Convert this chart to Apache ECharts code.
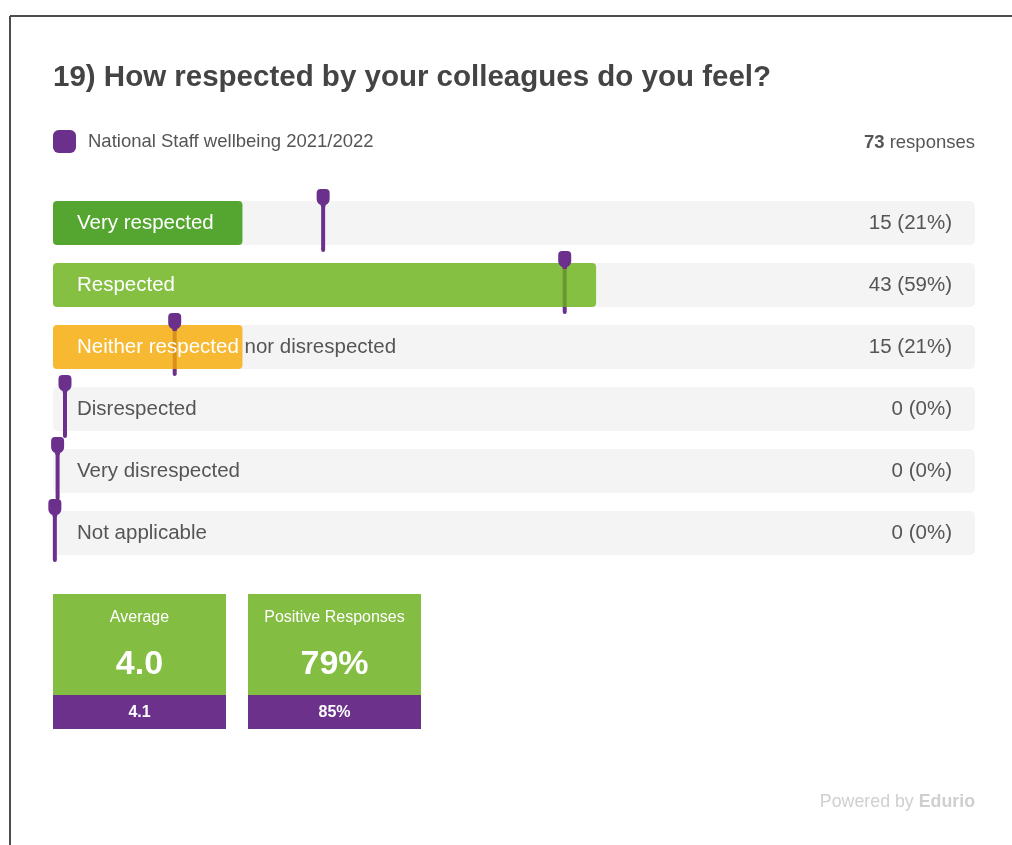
<!DOCTYPE html>
<html><head><meta charset="utf-8">
<script src="https://cdn.jsdelivr.net/npm/echarts@6/dist/echarts.min.js"></script>
<style>html,body{margin:0;padding:0;background:#fff}#c{width:1012px;height:845px}</style>
</head><body><div id="c"></div>
<script>
const titleText = '19) How respected by your colleagues do you feel?';
const legendName = 'National Staff wellbeing 2021/2022';
const totalResponses = 73;
const categories = ['Very respected', 'Respected', 'Neither respected nor disrespected', 'Disrespected', 'Very disrespected', 'Not applicable'];
const counts = [15, 43, 15, 0, 0, 0];
const percents = [21, 59, 21, 0, 0, 0];
const nationalPercents = [29.3, 55.5, 13.2, 1.3, 0.5, 0.2];
const barColors = ['#2d9200', '#69b317', '#f6aa00', '#69b317', '#69b317', '#69b317'];
const statLabels = ['Average', 'Positive Responses'];
const statValues = ['4.0', '79%'];
const statNational = ['4.1', '85%'];

const FONT = '"Liberation Sans", Arial, Helvetica, sans-serif';
const PURPLE = '#6b2f8c';
const BAR_H = 44;

const chart = echarts.init(document.getElementById('c'), null, {renderer: 'canvas'});

function rowGeom(api, v, idx) {
  const p0 = api.coord([0, idx]);
  const p1 = api.coord([v, idx]);
  const pE = api.coord([100, idx]);
  return {x0: p0[0], x1: p1[0], xe: pE[0], cy: p0[1], y: p0[1] - BAR_H / 2};
}

function textStyle(str, x, y, fill) {
  return {text: str, x: x, y: y, fill: fill, fontSize: 20.5, fontFamily: FONT,
    align: 'left', verticalAlign: 'middle', textAlign: 'left', textVerticalAlign: 'middle'};
}

const barValues = counts.map(c => c / totalResponses * 100);

const graphic = [
  {type: 'line', shape: {x1: 10, y1: 16, x2: 1012, y2: 16}, style: {stroke: '#4d4d4d', lineWidth: 2}},
  {type: 'line', shape: {x1: 10, y1: 16, x2: 10, y2: 845}, style: {stroke: '#4d4d4d', lineWidth: 2}},
  {type: 'text', x: 975, y: 143, style: {text: '{b|' + totalResponses + '} responses', fill: '#555', fontSize: 18.5, fontFamily: FONT,
    align: 'right', verticalAlign: 'middle', rich: {b: {fontWeight: 'bold', fontSize: 18.5, fill: '#555', fontFamily: FONT}}}},
  {type: 'text', x: 975, y: 802, style: {text: 'Powered by {b|Edurio}', fill: '#cfcfcf', fontSize: 17.8, fontFamily: FONT,
    align: 'right', verticalAlign: 'middle', rich: {b: {fontWeight: 'bold', fontSize: 17.8, fill: '#cfcfcf', fontFamily: FONT}}}}
];
statLabels.forEach((lab, i) => {
  const x = 53 + i * 195, w = 173;
  graphic.push({type: 'rect', shape: {x: x, y: 594, width: w, height: 101}, style: {fill: '#83bd41'}});
  graphic.push({type: 'rect', shape: {x: x, y: 695, width: w, height: 34}, style: {fill: '#6b318b'}});
  graphic.push({type: 'text', x: x + w / 2, y: 618, style: {text: lab, fill: '#fff', fontSize: 16, fontFamily: FONT, align: 'center', verticalAlign: 'middle'}});
  graphic.push({type: 'text', x: x + w / 2, y: 665, style: {text: statValues[i], fill: '#fff', fontSize: 34, fontWeight: 'bold', fontFamily: FONT, align: 'center', verticalAlign: 'middle'}});
  graphic.push({type: 'text', x: x + w / 2, y: 713, style: {text: statNational[i], fill: '#fff', fontSize: 16, fontWeight: 'bold', fontFamily: FONT, align: 'center', verticalAlign: 'middle'}});
});

const option = {
  animation: false,
  title: {text: titleText, left: 48, top: 58, textStyle: {fontSize: 29.5, fontWeight: 'bold', color: '#444', fontFamily: FONT}},
  legend: {
    left: 48, top: 125, itemWidth: 23, itemHeight: 23, selectedMode: false,
    data: [{name: legendName, icon: 'roundRect', itemStyle: {color: PURPLE}}],
    textStyle: {fontSize: 18.5, color: '#555', fontFamily: FONT, padding: [1, 0, 0, 7]}
  },
  grid: {left: 53, right: 37, top: 192, height: 372, containLabel: false},
  xAxis: {type: 'value', min: 0, max: 100, show: false},
  yAxis: {type: 'category', data: categories, inverse: true, show: false},
  graphic: graphic,
  series: [
    {
      type: 'bar', name: 'bg', silent: true, z: 1, barWidth: BAR_H, barGap: '-100%',
      data: categories.map(() => 100),
      itemStyle: {color: '#f4f4f4', borderRadius: 5},
      label: {show: true, position: 'insideRight', distance: 23, color: '#555', fontSize: 20.5, fontFamily: FONT,
        formatter: p => counts[p.dataIndex] + ' (' + percents[p.dataIndex] + '%)'}
    },
    {
      type: 'custom', name: 'grayLabels', silent: true, z: 2,
      data: barValues.map((v, i) => [v, i]),
      renderItem: (params, api) => {
        const idx = api.value(1);
        const g = rowGeom(api, api.value(0), idx);
        return {type: 'text', style: textStyle(categories[idx], g.x0 + 24, g.cy, '#555'),
          clipPath: {type: 'rect', shape: {x: g.x1, y: g.y, width: Math.max(0, g.xe - g.x1), height: BAR_H}}};
      }
    },
    {
      type: 'custom', name: 'pinLines', silent: true, z: 3,
      itemStyle: {color: PURPLE},
      data: nationalPercents.map((v, i) => [v, i]),
      renderItem: (params, api) => {
        const idx = api.value(1);
        const g = rowGeom(api, api.value(0), idx);
        return {type: 'rect', shape: {x: g.x1 - 2, y: g.cy - 20, width: 4, height: 49, r: 2}, style: {fill: PURPLE}};
      }
    },
    {
      type: 'custom', name: 'values', silent: true, z: 4,
      data: barValues.map((v, i) => [v, i]),
      renderItem: (params, api) => {
        const idx = api.value(1);
        const g = rowGeom(api, api.value(0), idx);
        const w = g.x1 - g.x0;
        if (w <= 0) return {type: 'group', children: []};
        return {type: 'group', children: [
          {type: 'rect', shape: {x: g.x0, y: g.y, width: w, height: BAR_H, r: 4}, style: {fill: barColors[idx], opacity: 0.8}},
          {type: 'text', style: textStyle(categories[idx], g.x0 + 24, g.cy, '#ffffff'),
            clipPath: {type: 'rect', shape: {x: g.x0, y: g.y, width: w, height: BAR_H}}}
        ]};
      }
    },
    {
      type: 'custom', name: legendName, silent: true, z: 5,
      itemStyle: {color: PURPLE},
      data: nationalPercents.map((v, i) => [v, i]),
      renderItem: (params, api) => {
        const idx = api.value(1);
        const g = rowGeom(api, api.value(0), idx);
        return {type: 'path', shape: {
          pathData: 'M4,0 L9,0 Q13,0 13,4 L13,10 Q13,14 9,16 L8.5,18 L4.5,18 L4,16 Q0,14 0,10 L0,4 Q0,0 4,0 Z',
          x: g.x1 - 6.5, y: g.cy - 34, width: 13, height: 18, layout: 'cover'}, style: {fill: PURPLE}};
      }
    }
  ]
};
chart.setOption(option);
</script>
</body></html>
